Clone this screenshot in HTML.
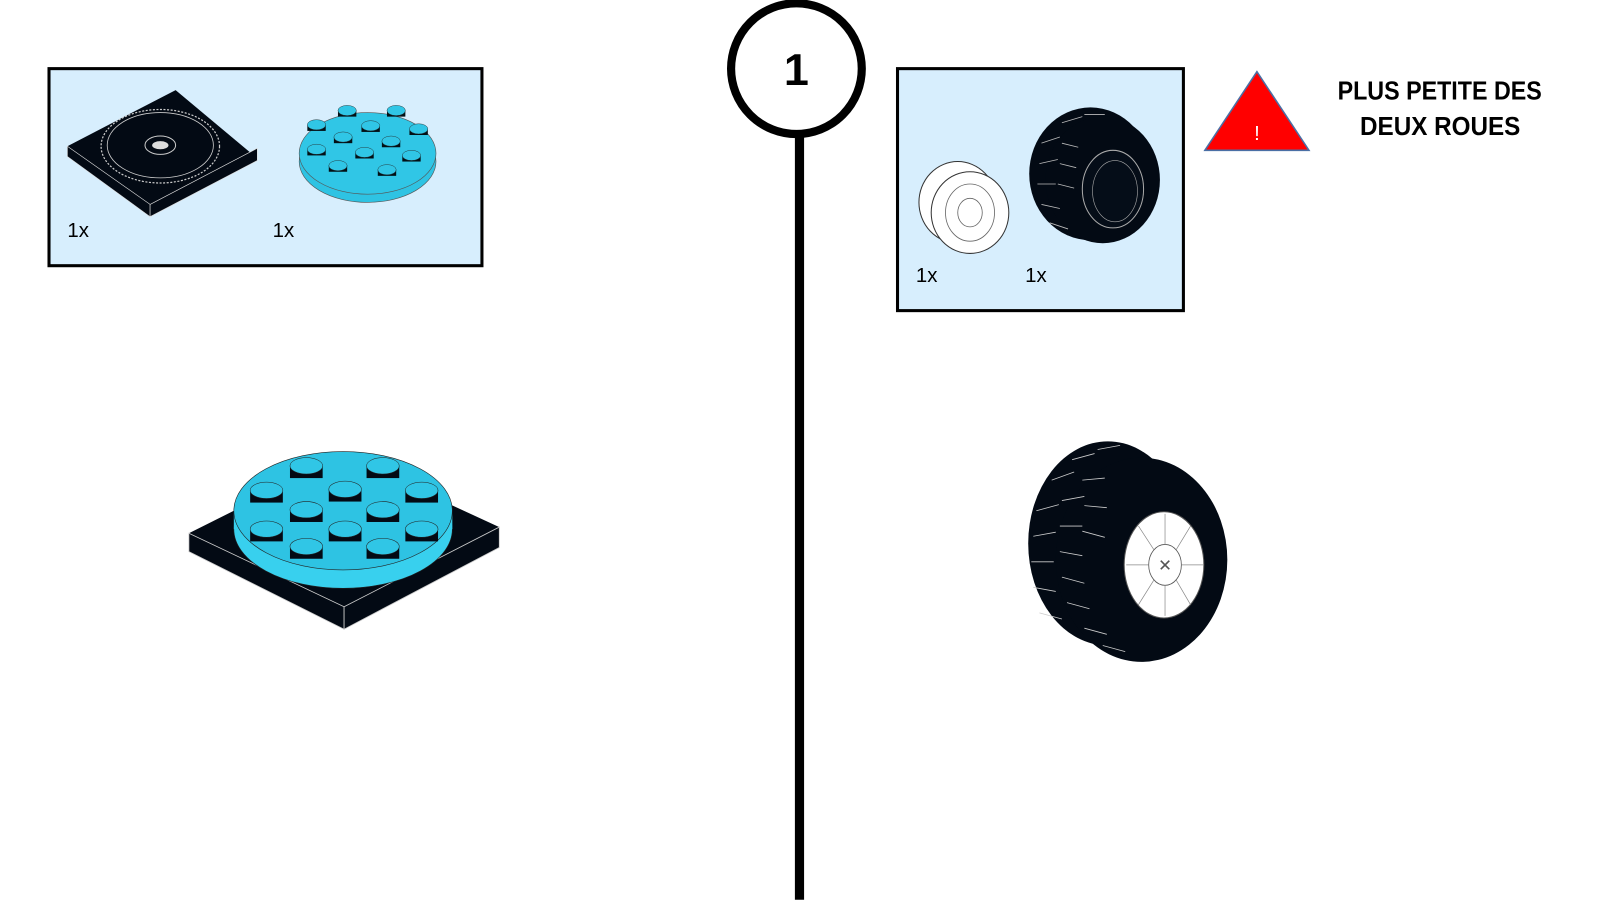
<!DOCTYPE html>
<html><head><meta charset="utf-8"><style>
html,body{margin:0;padding:0;background:#fff;width:1600px;height:900px;overflow:hidden}
svg{display:block}
</style></head><body>
<svg width="1600" height="900" viewBox="0 0 1567 881" xmlns="http://www.w3.org/2000/svg">
<!-- box 1 -->
<rect x="48" y="67" width="424" height="193" fill="#d7eefd" stroke="#000" stroke-width="3"/>
<polygon points="66,143 172,88 252,155 147,210" fill="#030a14"/>
<polygon points="66,143 147,200 147,212 66,153" fill="#030a14" stroke="#ddd" stroke-width="0.6"/>
<polygon points="147,200 252,145 252,157 147,212" fill="#030a14" stroke="#ddd" stroke-width="0.6"/>
<ellipse cx="157" cy="143" rx="58" ry="36" fill="none" stroke="#ccc" stroke-width="1.2" stroke-dasharray="2 1.5"/>
<ellipse cx="157" cy="142" rx="52" ry="32" fill="none" stroke="#ccc" stroke-width="0.8"/>
<ellipse cx="157" cy="142" rx="15" ry="9" fill="none" stroke="#ccc" stroke-width="1"/>
<ellipse cx="157" cy="142" rx="8" ry="4" fill="#ddd"/>
<ellipse cx="360" cy="158" rx="67" ry="40" fill="#2ec3e3" stroke="#555" stroke-width="0.6"/>
<ellipse cx="360" cy="150" rx="67" ry="40" fill="#30c6e6" stroke="#555" stroke-width="0.6"/>
<g fill="#021016">
<rect x="301" y="122" width="18" height="6"/><rect x="331" y="108" width="18" height="6"/><rect x="379" y="108" width="18" height="6"/>
<rect x="354" y="123" width="18" height="6"/><rect x="401" y="126" width="18" height="6"/><rect x="327" y="134" width="18" height="6"/>
<rect x="374" y="138" width="18" height="6"/><rect x="301" y="146" width="18" height="6"/><rect x="348" y="149" width="18" height="6"/>
<rect x="394" y="152" width="18" height="6"/><rect x="322" y="162" width="18" height="6"/><rect x="370" y="166" width="18" height="6"/>
</g>
<g fill="#30c6e6" stroke="#222" stroke-width="0.4">
<ellipse cx="310" cy="122" rx="9" ry="5"/><ellipse cx="340" cy="108" rx="9" ry="5"/><ellipse cx="388" cy="108" rx="9" ry="5"/>
<ellipse cx="363" cy="123" rx="9" ry="5"/><ellipse cx="410" cy="126" rx="9" ry="5"/><ellipse cx="336" cy="134" rx="9" ry="5"/>
<ellipse cx="383" cy="138" rx="9" ry="5"/><ellipse cx="310" cy="146" rx="9" ry="5"/><ellipse cx="357" cy="149" rx="9" ry="5"/>
<ellipse cx="403" cy="152" rx="9" ry="5"/><ellipse cx="331" cy="162" rx="9" ry="5"/><ellipse cx="379" cy="166" rx="9" ry="5"/>
</g>
<text x="66" y="232" font-family="Liberation Sans, sans-serif" font-size="20">1x</text>
<text x="267" y="232" font-family="Liberation Sans, sans-serif" font-size="20">1x</text>

<line x1="783" y1="128" x2="783" y2="881" stroke="#000" stroke-width="9"/>
<circle cx="780" cy="67" r="64" fill="#fff" stroke="#000" stroke-width="8"/>
<text x="780" y="83" text-anchor="middle" font-family="Liberation Sans, sans-serif" font-weight="bold" font-size="44">1</text>

<!-- box 2 -->
<rect x="879" y="67" width="280" height="237" fill="#d7eefd" stroke="#000" stroke-width="3"/>
<ellipse cx="938" cy="198" rx="38" ry="40" fill="#fff" stroke="#333" stroke-width="1"/>
<ellipse cx="950" cy="208" rx="38" ry="40" fill="#fff" stroke="#333" stroke-width="1"/>
<ellipse cx="950" cy="208" rx="24" ry="28" fill="none" stroke="#666" stroke-width="0.8"/>
<ellipse cx="950" cy="208" rx="12" ry="14" fill="none" stroke="#666" stroke-width="0.8"/>
<ellipse cx="1068" cy="170" rx="60" ry="65" fill="#030a14"/>
<ellipse cx="1080" cy="176" rx="56" ry="62" fill="#030a14"/>
<ellipse cx="1090" cy="185" rx="30" ry="38" fill="#050d18" stroke="#aaa" stroke-width="1"/>
<ellipse cx="1092" cy="187" rx="22" ry="30" fill="none" stroke="#aaa" stroke-width="0.6"/>
<g stroke="#bbb" stroke-width="0.8" fill="none">
<path d="M1020,140 l18,-6 M1018,160 l18,-4 M1016,180 l18,0 M1020,200 l18,4 M1028,218 l18,6 M1040,120 l20,-6 M1062,112 l20,0 M1040,140 l16,4 M1038,160 l16,4 M1036,180 l16,4"/>
</g>
<text x="897" y="276" font-family="Liberation Sans, sans-serif" font-size="20">1x</text>
<text x="1004" y="276" font-family="Liberation Sans, sans-serif" font-size="20">1x</text>

<polygon points="1180,147 1231,70 1282,147" fill="#ff0000" stroke="#4a6fa5" stroke-width="1.5"/>
<text x="1231" y="137" text-anchor="middle" font-family="Liberation Sans, sans-serif" font-size="20" fill="#fff">!</text>
<text x="1310" y="97" textLength="200" lengthAdjust="spacingAndGlyphs" font-family="Liberation Sans, sans-serif" font-weight="bold" font-size="25">PLUS PETITE DES</text>
<text x="1332" y="132" textLength="157" lengthAdjust="spacingAndGlyphs" font-family="Liberation Sans, sans-serif" font-weight="bold" font-size="25">DEUX ROUES</text>

<!-- assembled turntable -->
<polygon points="185,522 337,446 489,516 337,594" fill="#030a14"/>
<polygon points="185,522 337,594 337,616 185,540" fill="#030a14" stroke="#ccc" stroke-width="0.8"/>
<polygon points="337,594 489,516 489,536 337,616" fill="#030a14" stroke="#ccc" stroke-width="0.8"/>
<ellipse cx="336" cy="518" rx="107" ry="58" fill="#38d0ee" stroke="#222" stroke-width="0.6"/>
<rect x="229" y="500" width="214" height="18" fill="#38d0ee"/>
<ellipse cx="336" cy="500" rx="107" ry="58" fill="#2ec3e3" stroke="#222" stroke-width="0.6"/>
<g fill="#030a14">
<rect x="284" y="456" width="32" height="12"/><rect x="359" y="456" width="32" height="12"/>
<rect x="245" y="480" width="32" height="12"/><rect x="322" y="479" width="32" height="12"/><rect x="397" y="480" width="32" height="12"/>
<rect x="284" y="499" width="32" height="12"/><rect x="359" y="499" width="32" height="12"/>
<rect x="245" y="518" width="32" height="12"/><rect x="322" y="518" width="32" height="12"/><rect x="397" y="518" width="32" height="12"/>
<rect x="284" y="535" width="32" height="12"/><rect x="359" y="535" width="32" height="12"/>
</g>
<g fill="#30c6e6" stroke="#222" stroke-width="0.5">
<ellipse cx="300" cy="456" rx="16" ry="8"/><ellipse cx="375" cy="456" rx="16" ry="8"/>
<ellipse cx="261" cy="480" rx="16" ry="8"/><ellipse cx="338" cy="479" rx="16" ry="8"/><ellipse cx="413" cy="480" rx="16" ry="8"/>
<ellipse cx="300" cy="499" rx="16" ry="8"/><ellipse cx="375" cy="499" rx="16" ry="8"/>
<ellipse cx="261" cy="518" rx="16" ry="8"/><ellipse cx="338" cy="518" rx="16" ry="8"/><ellipse cx="413" cy="518" rx="16" ry="8"/>
<ellipse cx="300" cy="535" rx="16" ry="8"/><ellipse cx="375" cy="535" rx="16" ry="8"/>
</g>

<!-- assembled wheel -->
<ellipse cx="1085" cy="532" rx="78" ry="100" fill="#030a14"/>
<ellipse cx="1118" cy="548" rx="84" ry="100" fill="#030a14"/>
<g stroke="#ccc" stroke-width="0.8" fill="none">
<path d="M1015,500 l22,-6 M1012,525 l22,-4 M1010,550 l22,0 M1012,575 l22,4 M1018,600 l22,6 M1030,470 l22,-8 M1050,450 l22,-6 M1075,440 l22,-4 M1040,490 l22,-4 M1038,515 l22,0 M1038,540 l22,4 M1040,565 l22,6 M1045,590 l22,6 M1060,470 l22,-2 M1062,495 l22,2 M1060,520 l22,6 M1062,615 l22,6 M1080,632 l22,6"/>
</g>
<ellipse cx="1140" cy="553" rx="39" ry="52" fill="#fff" stroke="#555" stroke-width="1"/>
<ellipse cx="1141" cy="553" rx="16" ry="20" fill="#fff" stroke="#555" stroke-width="0.8"/>
<g stroke="#888" stroke-width="0.7">
<path d="M1141,533 L1141,503 M1141,573 L1141,603 M1125,553 L1103,553 M1157,553 L1179,553 M1130,538 L1115,515 M1152,538 L1166,515 M1130,568 L1115,592 M1152,568 L1166,592"/>
</g>
<text x="1141" y="559" text-anchor="middle" font-family="Liberation Sans, sans-serif" font-size="16" fill="#555">✕</text>
</svg>
</body></html>
